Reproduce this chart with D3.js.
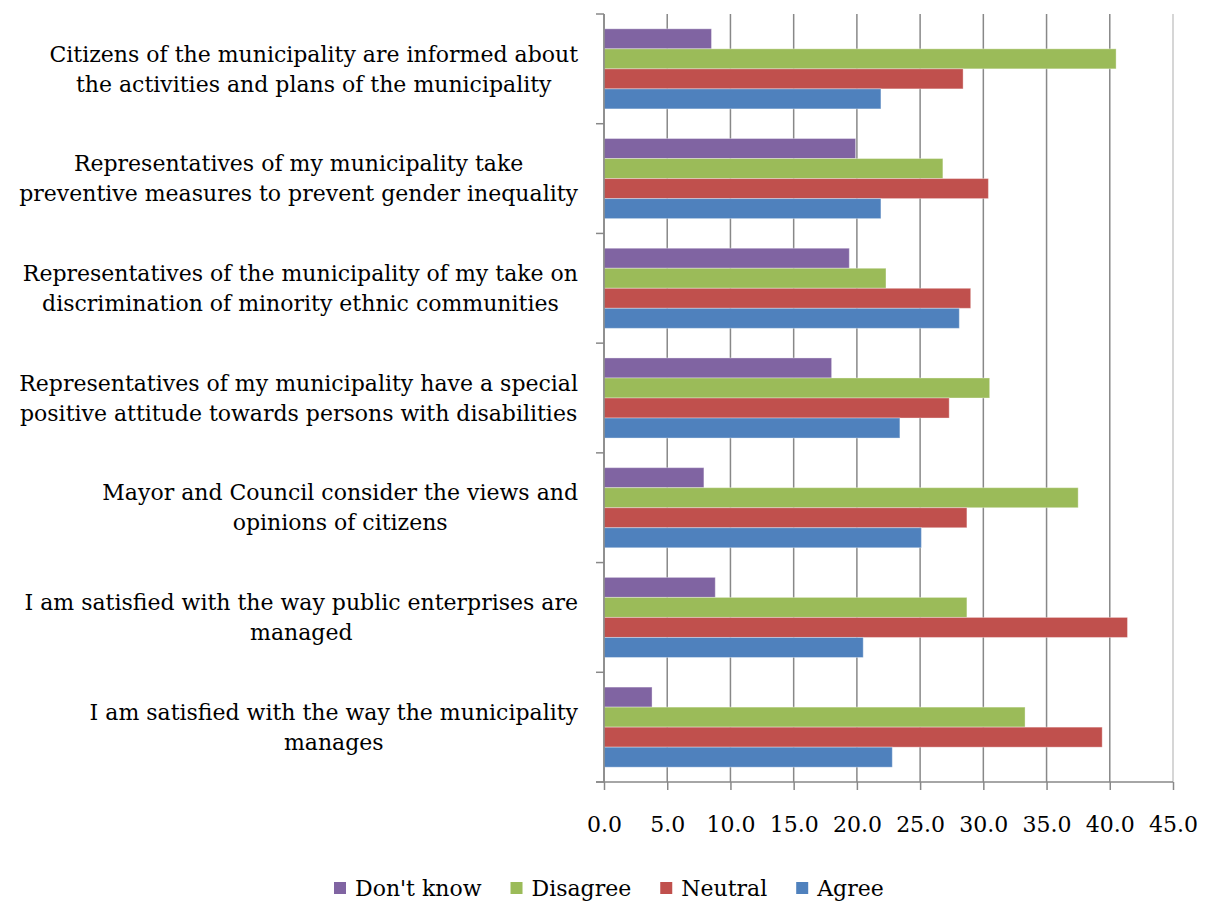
<!DOCTYPE html>
<html>
<head>
<meta charset="utf-8">
<script src="https://cdn.jsdelivr.net/npm/d3@7"></script>
<style>
  html, body { margin: 0; padding: 0; background: #fff; }
  svg { display: block; }
  text { font-family: "DejaVu Serif", "Liberation Serif", serif; fill: #000; }
</style>
</head>
<body>
<svg id="chart" width="1208" height="902"></svg>
<script>
// Statements (top to bottom), each split into its printed lines
const categories = [
  ["Citizens of the municipality are informed about", "the activities and plans of the municipality"],
  ["Representatives of my municipality take", "preventive measures to prevent gender inequality"],
  ["Representatives of the municipality of my take on", "discrimination of minority ethnic communities"],
  ["Representatives of my municipality have a special", "positive attitude towards persons with disabilities"],
  ["Mayor and Council consider the views and", "opinions of citizens"],
  ["I am satisfied with the way public enterprises are", "managed"],
  ["I am satisfied with the way the municipality", "manages"]
];

// Response series, in drawing order within each group (top to bottom)
const seriesNames = ["Don't know", "Disagree", "Neutral", "Agree"];
const seriesColors = ["#8064A2", "#9BBB59", "#C0504D", "#4F81BD"];

// Percentages per statement, same order as categories
const dontKnow = [8.5, 19.9, 19.4, 18.0, 7.9, 8.8, 3.8];
const disagree = [40.5, 26.8, 22.3, 30.5, 37.5, 28.7, 33.3];
const neutral  = [28.4, 30.4, 29.0, 27.3, 28.7, 41.4, 39.4];
const agree    = [21.9, 21.9, 28.1, 23.4, 25.1, 20.5, 22.8];

const xTicks = [0, 5, 10, 15, 20, 25, 30, 35, 40, 45];

const seriesValues = [dontKnow, disagree, neutral, agree];

const svg = d3.select("#chart");
const plot = { left: 604, right: 1173, top: 14, bottom: 782 };
const labelFont = "22px";

const x = d3.scaleLinear().domain([0, 45]).range([plot.left, plot.right]);
const y = d3.scaleBand().domain(d3.range(categories.length))
  .range([plot.top, plot.bottom]).paddingInner(0.27).paddingOuter(0.135);
const ySub = d3.scaleBand().domain(d3.range(seriesNames.length))
  .range([0, y.bandwidth()]);

// Vertical gridlines
svg.append("g").selectAll("line").data(xTicks).join("line")
  .attr("x1", d => x(d)).attr("x2", d => x(d))
  .attr("y1", plot.top).attr("y2", plot.bottom)
  .attr("stroke", d => d === 45 ? "#c8c8c8" : "#888")
  .attr("stroke-width", 1.5);

// Bars
const groups = svg.append("g").selectAll("g").data(categories).join("g")
  .attr("transform", (d, i) => `translate(0,${y(i)})`);
groups.selectAll("rect")
  .data((d, i) => seriesValues.map((vals, s) => ({ s, v: vals[i] })))
  .join("rect")
  .attr("x", x(0))
  .attr("y", d => ySub(d.s))
  .attr("width", d => x(d.v) - x(0))
  .attr("height", ySub.bandwidth())
  .attr("fill", d => seriesColors[d.s])
  .attr("stroke", "rgba(255,255,255,0.35)")
  .attr("stroke-width", 1);

// Category axis: line plus ticks at group boundaries
const catBounds = d3.range(categories.length + 1).map(i =>
  plot.top + i * (plot.bottom - plot.top) / categories.length);
const yAxis = svg.append("g");
yAxis.append("line")
  .attr("x1", plot.left).attr("x2", plot.left)
  .attr("y1", plot.top).attr("y2", plot.bottom)
  .attr("stroke", "#888").attr("stroke-width", 1.5);
yAxis.selectAll(".tk").data(catBounds).join("line")
  .attr("x1", plot.left - 8).attr("x2", plot.left)
  .attr("y1", d => d).attr("y2", d => d)
  .attr("stroke", "#888").attr("stroke-width", 1.5);

// Value axis along the bottom
const xAxis = d3.axisBottom(x).tickValues(xTicks)
  .tickFormat(d3.format(".1f")).tickSize(8).tickPadding(26);
const xg = svg.append("g").attr("transform", `translate(0,${plot.bottom})`).call(xAxis);
xg.select(".domain").attr("stroke", "#888").attr("stroke-width", 1.5)
  .attr("d", `M${plot.left - 8},0H${plot.right}`);
xg.selectAll(".tick line").attr("stroke", "#888").attr("stroke-width", 1.5);
xg.selectAll(".tick text")
  .style("font-family", '"DejaVu Serif", "Liberation Serif", serif')
  .style("font-size", labelFont).attr("fill", "#000");

// Category labels: centred lines, block right-aligned next to the axis
const labelRight = 578;
const lineH = 30;
categories.forEach((lines, i) => {
  const cy = y(i) + y.bandwidth() / 2;
  const g = svg.append("g");
  const texts = lines.map((ln, k) => g.append("text")
    .attr("y", cy + (k - (lines.length - 1) / 2) * lineH)
    .attr("dy", "0.35em")
    .attr("text-anchor", "middle")
    .style("font-size", labelFont)
    .text(ln));
  const maxW = d3.max(texts, t => t.node().getComputedTextLength());
  texts.forEach(t => t.attr("x", labelRight - maxW / 2));
});

// Legend
const legendItems = seriesNames.map((n, i) => ({ n, c: seriesColors[i] }));
const legend = svg.append("g").attr("transform", "translate(0,888)");
let lx = 334;
legendItems.forEach(item => {
  legend.append("rect").attr("x", lx).attr("y", -6).attr("width", 12).attr("height", 12)
    .attr("fill", item.c);
  const t = legend.append("text").attr("x", lx + 21).attr("y", 0).attr("dy", "0.35em")
    .style("font-size", labelFont).text(item.n);
  lx += 21 + t.node().getComputedTextLength() + 29;
});
</script>
</body>
</html>
